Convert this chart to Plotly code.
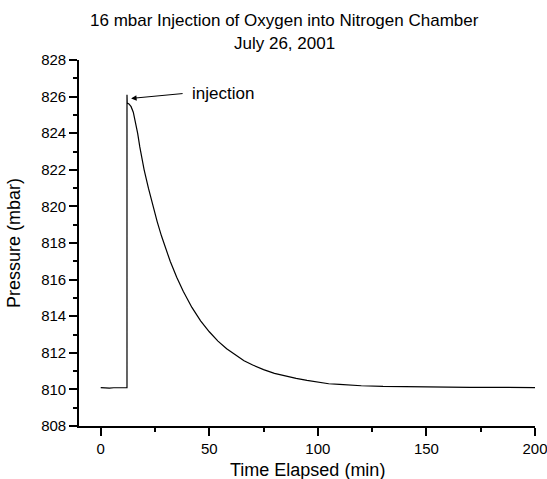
import plotly.graph_objects as go

# Data
time_min = [0, 2, 4, 6, 8, 10, 12.1, 12.1, 12.2, 13, 14, 15, 16, 17, 18, 19, 20, 22, 24, 26, 28,
            30, 32, 35, 38, 42, 46, 50, 54, 58, 62, 66, 70, 75, 80, 85, 90, 95, 100,
            105, 110, 115, 120, 130, 140, 150, 160, 170, 180, 190, 200]
pressure_mbar = [810.10, 810.08, 810.07, 810.09, 810.10, 810.09, 810.10, 826.10, 825.65, 825.60,
                 825.45, 825.15, 824.65, 824.00, 823.25, 822.55, 822.00, 820.98, 820.03, 819.17,
                 818.38, 817.66, 817.00, 816.13, 815.36, 814.48, 813.75, 813.15, 812.64, 812.22,
                 811.87, 811.57, 811.33, 811.08, 810.88, 810.72, 810.60, 810.49, 810.38,
                 810.31, 810.27, 810.23, 810.20, 810.16, 810.14, 810.13, 810.12, 810.11,
                 810.11, 810.10, 810.10]

x_ticks = [0, 50, 100, 150, 200]
y_ticks = [808, 810, 812, 814, 816, 818, 820, 822, 824, 826, 828]

title_line1 = "16 mbar Injection of Oxygen into Nitrogen Chamber"
title_line2 = "July 26, 2001"
x_title = "Time Elapsed (min)"
y_title = "Pressure (mbar)"
note_text = "injection"
note_point = (14.0, 825.9)
note_text_pos = (41.0, 826.15)

FONT = "Arial, Liberation Sans, sans-serif"

fig = go.Figure()
fig.add_trace(go.Scatter(x=time_min, y=pressure_mbar, mode="lines",
                         line=dict(color="black", width=1.2), showlegend=False,
                         hoverinfo="skip"))

axis_common = dict(showgrid=False, zeroline=False, showline=True, linecolor="black",
                   linewidth=1.6, ticks="outside", ticklen=8, tickwidth=1.5,
                   tickcolor="black", tickfont=dict(family=FONT, size=15, color="black"),
                   mirror=False, automargin=False, ticklabeloverflow="allow")

fig.update_layout(
    width=547, height=479,
    margin=dict(l=79, r=12, t=60, b=53),
    paper_bgcolor="white", plot_bgcolor="white",
    font=dict(family=FONT, color="black"),
    xaxis=dict(range=[-10, 200], tickvals=x_ticks, ticktext=[str(v) for v in x_ticks],
               minor=dict(tickvals=[25, 75, 125, 175], ticklen=4, tickwidth=1.5,
                          ticks="outside", tickcolor="black"),
               **axis_common),
    yaxis=dict(range=[808, 828], tickvals=y_ticks, ticktext=[str(v) for v in y_ticks],
               minor=dict(dtick=1, ticklen=4, tickwidth=1.5, ticks="outside",
                          tickcolor="black"),
               **axis_common),
)

# Titles
fig.add_annotation(text=title_line1, xref="paper", yref="paper", x=0.4507, y=1,
                   yshift=39.5, showarrow=False, xanchor="center", yanchor="middle",
                   font=dict(family=FONT, size=17, color="black"))
fig.add_annotation(text=title_line2, xref="paper", yref="paper", x=0.4507, y=1,
                   yshift=16.7, showarrow=False, xanchor="center", yanchor="middle",
                   font=dict(family=FONT, size=17, color="black"))
fig.add_annotation(text=x_title, xref="paper", yref="paper", x=0.5, y=0,
                   yshift=-44, showarrow=False, xanchor="center", yanchor="middle",
                   font=dict(family=FONT, size=18, color="black"))
fig.add_annotation(text=y_title, xref="paper", yref="paper", x=0, y=0.5,
                   xshift=-65, showarrow=False, xanchor="center", yanchor="middle",
                   textangle=-90, font=dict(family=FONT, size=18, color="black"))

# Injection arrow and label
fig.add_annotation(text="", x=note_point[0], y=note_point[1], xref="x", yref="y",
                   showarrow=True, ax=53, ay=-5, arrowhead=2, arrowsize=1.1,
                   arrowwidth=1, arrowcolor="black", standoff=0)
fig.add_annotation(text=note_text, x=note_text_pos[0], y=note_text_pos[1], xref="x", yref="y",
                   showarrow=False, xanchor="left", yanchor="middle",
                   font=dict(family=FONT, size=17, color="black"))

fig.write_html("out.html")
